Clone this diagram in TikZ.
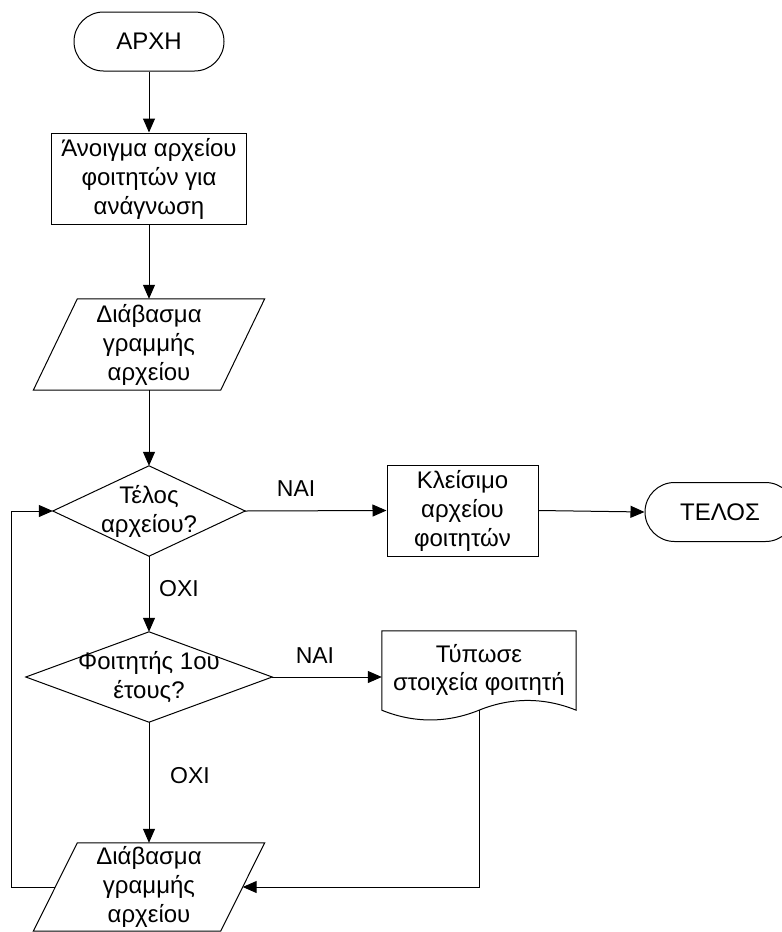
\documentclass[tikz,border=0pt]{standalone}
\usepackage{fontspec}
\setmainfont{Liberation Sans}
\usetikzlibrary{shapes.misc,arrows.meta}
\begin{document}
\begin{tikzpicture}[x=1pt,y=-1pt,
  every node/.style={font=\fontsize{24}{29}\selectfont, align=center, inner sep=0pt},
  term/.style={rounded rectangle, draw, line width=1pt, minimum width=150pt, minimum height=59pt},
  procbox/.style={rectangle, draw, line width=1pt, minimum width=#1, minimum height=91pt},
  iobox/.style={rectangle, minimum width=187pt, minimum height=#1},
  decbox/.style={rectangle, minimum width=#1, minimum height=90pt},
  docbox/.style={rectangle, minimum width=194pt, minimum height=79pt},
  shapeline/.style={line width=1pt, line join=miter},
  arr/.style={line width=1pt, -{Triangle[length=14pt,width=12pt]}},
  lbl/.style={font=\fontsize{23}{28}\selectfont}
]
\useasboundingbox (0,0) rectangle (782,932);

% nodes
\node[term] (start) at (149,41.5) {ΑΡΧΗ};
\node[procbox=195pt] (open) at (149,178.5) {Άνοιγμα αρχείου\\φοιτητών για\\ανάγνωση};

\node[iobox=91pt] (read1) at (149,344.5) {Διάβασμα\\γραμμής\\αρχείου};
\draw[shapeline] ([xshift=22pt]read1.north west) -- ([xshift=22pt]read1.north east)
  -- ([xshift=-22pt]read1.south east) -- ([xshift=-22pt]read1.south west) -- cycle;

\node[decbox=192pt] (dec1) at (149,511) {Τέλος\\αρχείου?};
\draw[shapeline] (dec1.north) -- (dec1.east) -- (dec1.south) -- (dec1.west) -- cycle;

\node[procbox=151pt] (close) at (462.5,510.5) {Κλείσιμο\\αρχείου\\φοιτητών};
\node[term] (end) at (720,512) {ΤΕΛΟΣ};

\node[decbox=246pt] (dec2) at (149,677) {Φοιτητής 1ου\\έτους?};
\draw[shapeline] (dec2.north) -- (dec2.east) -- (dec2.south) -- (dec2.west) -- cycle;

\node[docbox] (doc) at (479,670.5) {\raisebox{4pt}{\begin{tabular}{@{}c@{}}Τύπωσε\\[-1pt]στοιχεία φοιτητή\end{tabular}}};
\draw[shapeline] (doc.south west) -- (doc.north west) -- (doc.north east) -- (doc.south east)
  .. controls ([xshift=-32pt,yshift=13pt]doc.south east) and ([xshift=32pt,yshift=13pt]doc.south) .. (doc.south)
  .. controls ([xshift=-32pt,yshift=-13pt]doc.south) and ([xshift=32pt,yshift=-13pt]doc.south west) .. (doc.south west) -- cycle;

\node[iobox=88pt] (read2) at (149,887) {Διάβασμα\\γραμμής\\αρχείου};
\draw[shapeline] ([xshift=22pt]read2.north west) -- ([xshift=22pt]read2.north east)
  -- ([xshift=-22pt]read2.south east) -- ([xshift=-22pt]read2.south west) -- cycle;

\coordinate (loop) at (11,887);

% connectors
\draw[arr] (start.south) -- (open.north);
\draw[arr] (open.south) -- (read1.north);
\draw[arr] (read1.south) -- (dec1.north);
\draw[arr] (dec1.east) -- node[lbl, pos=0.36, yshift=22pt] {ΝΑΙ} (close.west);
\draw[arr] (close.east) -- (end.west);
\draw[arr] (dec1.south) -- node[lbl, pos=0.43, xshift=30pt] {ΟΧΙ} (dec2.north);
\draw[arr] (dec2.east) -- node[lbl, pos=0.39, yshift=21pt] {ΝΑΙ} (dec2.east -| doc.west);
\draw[arr] (dec2.south) -- node[lbl, pos=0.44, xshift=41pt] {ΟΧΙ} (read2.north);
\draw[arr] (doc.south) -- (doc.south |- read2.east) -- (read2.east);
\draw[arr] (read2.west) -- (loop) |- (dec1.west);
\end{tikzpicture}
\end{document}
